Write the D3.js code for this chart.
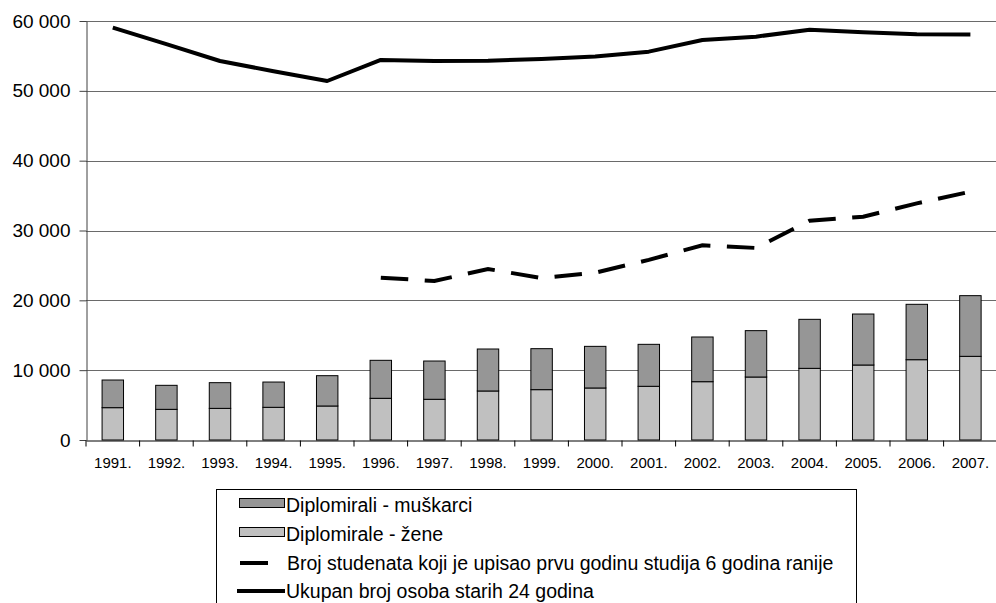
<!DOCTYPE html>
<html>
<head>
<meta charset="utf-8">
<script src="https://cdn.jsdelivr.net/npm/d3@7"></script>
<style>
  body { margin: 0; background: #fff; }
  svg { display: block; font-family: 'Liberation Sans', Arial, sans-serif; }
</style>
</head>
<body>
<svg width="996" height="603"></svg>
<script>
const years = ['1991.', '1992.', '1993.', '1994.', '1995.', '1996.', '1997.', '1998.', '1999.',
  '2000.', '2001.', '2002.', '2003.', '2004.', '2005.', '2006.', '2007.'];
// diplomirale - zene (bottom of stack)
const women = [4630, 4390, 4530, 4680, 4870, 5970, 5830, 7020, 7210, 7450, 7690, 8350, 9020, 10260, 10740, 11500, 11980];
// diplomirali - muskarci (top of stack)
const men = [3960, 3440, 3680, 3620, 4340, 5440, 5480, 6010, 5870, 5960, 6010, 6400, 6640, 7020, 7300, 7930, 8690];
// enrolled 6 years earlier, only from 1996
const enrolled = [null, null, null, null, null, 23250, 22770, 24490, 23200, 23960, 25800, 27880, 27500, 31400, 31980, 33880, 35560];
// population aged 24
const population = [59040, 56700, 54270, 52800, 51410, 54420, 54280, 54320, 54560, 54900, 55610, 57280, 57760, 58760, 58380, 58100, 58050];
const yTicks = [0, 10000, 20000, 30000, 40000, 50000, 60000];

const legendItems = [
  { label: 'Diplomirali - muškarci', type: 'rect', color: '#969696' },
  { label: 'Diplomirale - žene', type: 'rect', color: '#c0c0c0' },
  { label: 'Broj studenata koji je upisao prvu godinu studija 6 godina ranije', type: 'dash' },
  { label: 'Ukupan broj osoba starih 24 godina', type: 'line' }
];

const svg = d3.select('svg');
const mLeft = 86, mRight = 997.2, mTop = 21, mBottom = 440;

let x = d3.scaleBand().domain(years).range([mLeft, mRight]);
let y = d3.scaleLinear().domain([0, 60000]).range([mBottom, mTop]);

const fmt = (v) => d3.format(',')(v).replace(',', ' ');

// gridlines
svg.append('g')
  .selectAll('line')
  .data(yTicks.filter((t) => t > 0))
  .join('line')
  .attr('x1', mLeft).attr('x2', mRight)
  .attr('y1', (d) => Math.round(y(d)) + 0.5).attr('y2', (d) => Math.round(y(d)) + 0.5)
  .attr('stroke', '#6a6a6a')
  .attr('stroke-width', 1);

// y axis
let yAxis = d3.axisLeft(y).tickValues(yTicks).tickFormat(fmt).tickSize(7).tickSizeOuter(0);
let gy = svg.append('g')
  .attr('transform', `translate(${mLeft + 0.5},0)`)
  .call(yAxis);
gy.select('.domain').attr('stroke', '#404040');
gy.selectAll('.tick line').attr('stroke', '#404040');
gy.selectAll('.tick text')
  .attr('x', -16)
  .attr('font-size', 19)
  .attr('font-family', "'Liberation Sans', Arial, sans-serif")
  .attr('fill', '#000');

// stacked bars
const stack = years.map((yr, i) => ({ year: yr, women: women[i], men: men[i] }));
const bw = x.step() / 2.5;
const barX = (d) => x(d.year) + (x.step() - bw) / 2;

svg.append('g')
  .selectAll('rect')
  .data(stack)
  .join('rect')
  .attr('x', barX)
  .attr('width', bw)
  .attr('y', (d) => y(d.women))
  .attr('height', (d) => y(0) - y(d.women))
  .attr('fill', '#c0c0c0')
  .attr('stroke', '#000')
  .attr('stroke-width', 1);

svg.append('g')
  .selectAll('rect')
  .data(stack)
  .join('rect')
  .attr('x', barX)
  .attr('width', bw)
  .attr('y', (d) => y(d.women + d.men))
  .attr('height', (d) => y(d.women) - y(d.women + d.men))
  .attr('fill', '#969696')
  .attr('stroke', '#000')
  .attr('stroke-width', 1);

// x axis
let xAxis = d3.axisBottom(x).tickSize(0).tickPadding(17);
let gx = svg.append('g')
  .attr('transform', `translate(0,${mBottom + 0.5})`)
  .call(xAxis);
gx.select('.domain').attr('stroke', '#000');
gx.selectAll('.tick text')
  .attr('font-size', 15)
  .attr('font-family', "'Liberation Sans', Arial, sans-serif")
  .attr('fill', '#000');
// tick marks between categories
gx.selectAll('.sep')
  .data(years.concat(['end']))
  .join('line')
  .attr('class', 'sep')
  .attr('x1', (d, i) => mLeft + i * x.step())
  .attr('x2', (d, i) => mLeft + i * x.step())
  .attr('y1', 0).attr('y2', 6)
  .attr('stroke', '#000');

// lines
const cx = (i) => x(years[i]) + x.step() / 2;

let enrolledLine = d3.line()
  .defined((d) => d != null)
  .x((d, i) => cx(i))
  .y((d) => y(d));

svg.append('path')
  .datum(enrolled)
  .attr('d', enrolledLine)
  .attr('fill', 'none')
  .attr('stroke', '#000')
  .attr('stroke-width', 4)
  .attr('stroke-dasharray', '27.5,16.5');

let popLine = d3.line()
  .x((d, i) => cx(i))
  .y((d) => y(d));

svg.append('path')
  .datum(population)
  .attr('d', popLine)
  .attr('fill', 'none')
  .attr('stroke', '#000')
  .attr('stroke-width', 4)
  .attr('stroke-linejoin', 'round');

// legend
const legend = svg.append('g');
legend.append('rect')
  .attr('x', 216.5).attr('y', 489.5)
  .attr('width', 640).attr('height', 130)
  .attr('fill', '#fff')
  .attr('stroke', '#000');

const rowBase = [512, 541, 570, 598];
legendItems.forEach((item, i) => {
  let b = rowBase[i];
  let g = legend.append('g');
  if (item.type === 'rect') {
    g.append('rect')
      .attr('x', 239.5).attr('y', b - 13.5)
      .attr('width', 45).attr('height', 9)
      .attr('fill', item.color)
      .attr('stroke', '#000');
  } else if (item.type === 'dash') {
    g.append('line')
      .attr('x1', 240).attr('x2', 268)
      .attr('y1', b - 7).attr('y2', b - 7)
      .attr('stroke', '#000').attr('stroke-width', 4);
  } else {
    g.append('line')
      .attr('x1', 237).attr('x2', 285)
      .attr('y1', b - 7).attr('y2', b - 7)
      .attr('stroke', '#000').attr('stroke-width', 4);
  }
  g.append('text')
    .attr('x', item.type === 'dash' ? 287 : 286)
    .attr('y', b)
    .attr('font-size', 19.5)
    .attr('fill', '#000')
    .text(item.label);
});
</script>
</body>
</html>
